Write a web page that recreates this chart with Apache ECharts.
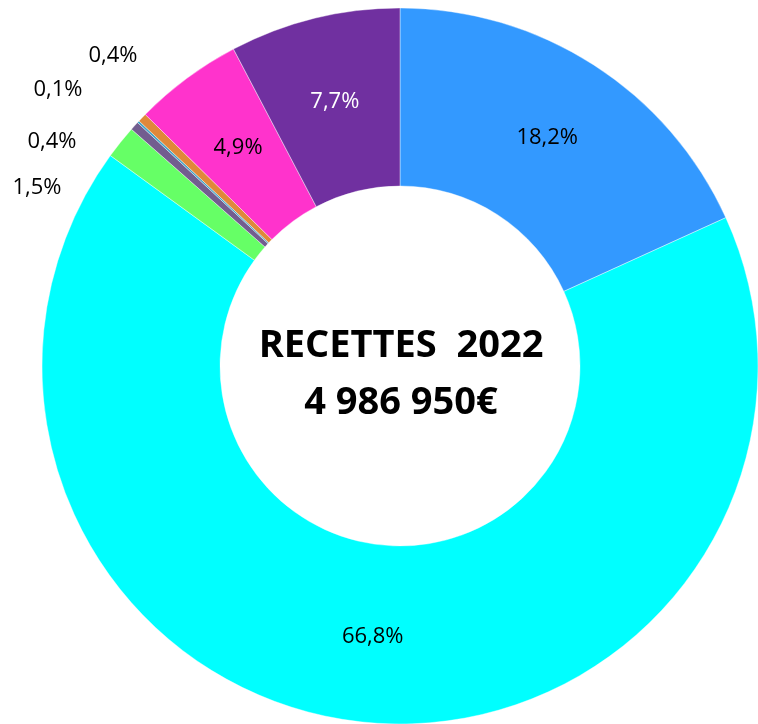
<!DOCTYPE html>
<html>
<head>
<meta charset="utf-8">
<script src="https://cdn.jsdelivr.net/npm/echarts@6/dist/echarts.min.js"></script>
<style>
  html, body { margin: 0; padding: 0; background: #fff; }
  #chart { width: 758px; height: 724px; }
</style>
</head>
<body>
<div id="chart"></div>
<script>
// parts of the 2022 revenue, clockwise from the top
const shares = [18.2, 66.8, 1.5, 0.4, 0.1, 0.4, 4.9, 7.7]
const colors = ['#3399FF', '#00FFFF', '#66FF66', '#725D8F', '#3FA3C8', '#E0883A', '#FF33CC', '#7030A0']
const labelColors = ['#000', '#000', '#000', '#000', '#000', '#000', '#000', '#fff']
// small slices get their label set outside the ring
const outsideLabels = { 2: [37, 188], 3: [52, 142], 4: [58, 90], 5: [113, 56] }

const chart = echarts.init(document.getElementById('chart'))

const data = shares.map((v, i) => ({
  value: v,
  name: 's' + i,
  itemStyle: { color: colors[i] },
  label: {
    position: outsideLabels[i] ? 'outside' : 'inside',
    color: labelColors[i],
    fontSize: 22,
    fontFamily: 'Open Sans',
    overflow: 'none'
  },
  labelLine: { show: false }
}))

chart.setOption({
  animation: false,
  title: {
    text: 'RECETTES  2022\n4 986 950€',
    left: 396,
    top: 370,
    textAlign: 'center',
    textVerticalAlign: 'middle',
    textStyle: {
      fontFamily: 'Open Sans',
      fontWeight: 'bold',
      fontSize: 38,
      lineHeight: 57,
      color: '#000'
    }
  },
  series: [
    {
      type: 'pie',
      center: [400, 366],
      radius: [180, 358],
      startAngle: 90,
      clockwise: true,
      data: data,
      itemStyle: { borderColor: '#fff', borderWidth: 0.4 },
      label: {
        show: true,
        fontFamily: 'Open Sans',
        fontSize: 22,
        formatter: (p) => p.value.toFixed(1).replace('.', ',') + '%'
      },
      labelLayout: (params) => {
        const pos = outsideLabels[params.dataIndex]
        if (!pos) return {}
        return { x: pos[0], y: pos[1], align: 'center', verticalAlign: 'middle' }
      }
    }
  ]
})
</script>
</body>
</html>
